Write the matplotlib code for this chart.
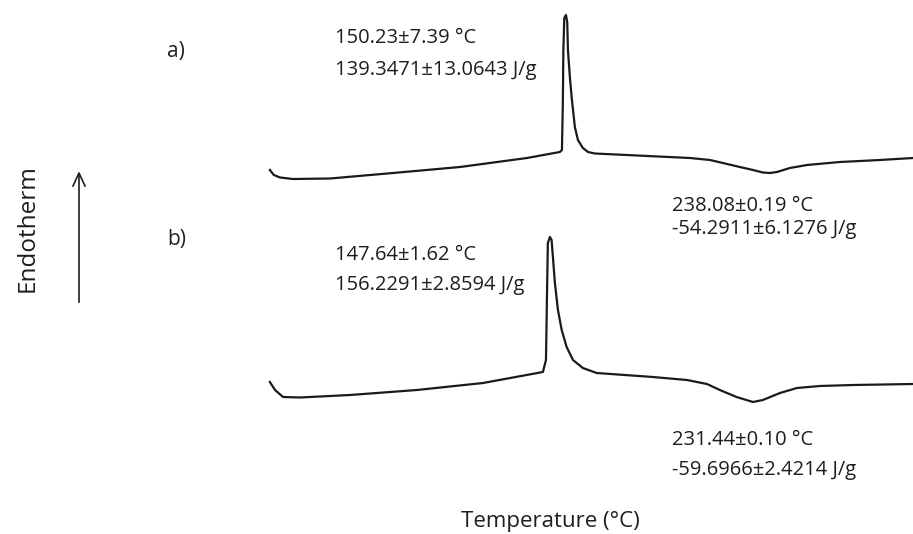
import numpy as np
import matplotlib.pyplot as plt

plt.rcParams['font.family'] = ['Open Sans', 'DejaVu Sans']

# DSC curve a) : temperature (°C) and heat flow (arb. units, endotherm up)
temp_a = [24.0, 25.7, 28.3, 33.8, 49.6, 76.4, 104.9, 133.4, 147.4,
          148.3, 148.7, 148.9, 149.3, 150.0, 150.55, 150.85, 151.7, 152.55,
          153.8, 155.1, 157.2, 159.4, 162.3,
          202.8, 211.3, 216.8, 224.0, 229.6, 233.8, 236.8, 239.8, 245.3,
          252.6, 266.6, 283.6, 297.7]
hf_a = [0.5, 0.0, -0.25, -0.4, -0.35, 0.2, 0.8, 1.7, 2.3,
        2.5, 7.5, 12.5, 15.7, 16.0, 15.3, 12.5, 9.7, 7.5,
        4.8, 3.5, 2.7, 2.3, 2.15,
        1.7, 1.5, 1.2, 0.8, 0.5, 0.25, 0.2, 0.3, 0.7,
        1.0, 1.3, 1.5, 1.7]

# DSC curve b)
temp_b = [24.0, 26.2, 29.6, 36.8, 58.1, 86.6, 114.7, 140.2,
          141.5, 141.9, 142.3, 143.2, 143.9, 145.3, 146.6, 148.2, 150.3,
          153.0, 157.2, 163.1, 187.0, 201.5, 210.0, 215.5, 222.6, 229.6,
          233.8, 241.1, 248.3, 258.1, 272.1, 297.7]
hf_b = [1.8, 1.0, 0.3, 0.25, 0.5, 1.0, 1.7, 2.8,
        4.0, 10.0, 15.7, 16.3, 16.0, 11.7, 9.0, 7.0, 5.3,
        4.0, 3.2, 2.7, 2.3, 2.0, 1.6, 1.0, 0.3, -0.2,
        0.0, 0.7, 1.2, 1.4, 1.5, 1.6]

offset_a = 22.5

fig = plt.figure(figsize=(9.13, 5.34), dpi=100)
ax = fig.add_axes([260 / 913, 0, 653 / 913, 1])
ax.plot(temp_a, np.array(hf_a) + offset_a, color='#1a1a1a', lw=1.6,
        clip_on=False, solid_joinstyle='round')
ax.plot(temp_b, hf_b, color='#1a1a1a', lw=1.6, clip_on=False,
        solid_joinstyle='round')
ax.set_xlim(19.8, 297.7)
ax.set_ylim(-13.4, 40)
ax.axis('off')

tc = '#1e1e1e'
fs = 14.5
W, H = 913, 534


def put(x, y, s, size=fs):
    fig.text(x / W, 1 - y / H, s, color=tc, fontsize=size, va='center')


put(167, 51, 'a)', 15)
put(335, 38, '150.23±7.39 °C')
put(335, 70, '139.3471±13.0643 J/g')
put(672, 206, '238.08±0.19 °C')
put(672, 229, '-54.2911±6.1276 J/g')

put(167, 240, 'b)', 15)
put(335, 255, '147.64±1.62 °C')
put(335, 285, '156.2291±2.8594 J/g')
put(672, 440, '231.44±0.10 °C')
put(672, 470, '-59.6966±2.4214 J/g')

fig.text(550 / W, 1 - 521 / H, 'Temperature (°C)', color=tc, fontsize=16,
         ha='center', va='center')
fig.text(28 / W, 1 - 228 / H, 'Endotherm', color=tc, fontsize=17.5,
         rotation=90, ha='center', va='center')
fig.add_artist(plt.Line2D([79 / W, 79 / W], [1 - 302 / H, 1 - 174 / H],
                          color=tc, lw=1.2))
fig.add_artist(plt.Line2D([73 / W, 79 / W, 85 / W],
                          [1 - 186 / H, 1 - 173 / H, 1 - 186 / H],
                          color=tc, lw=1.2))

fig.savefig('out.png', dpi=100, facecolor='white')
